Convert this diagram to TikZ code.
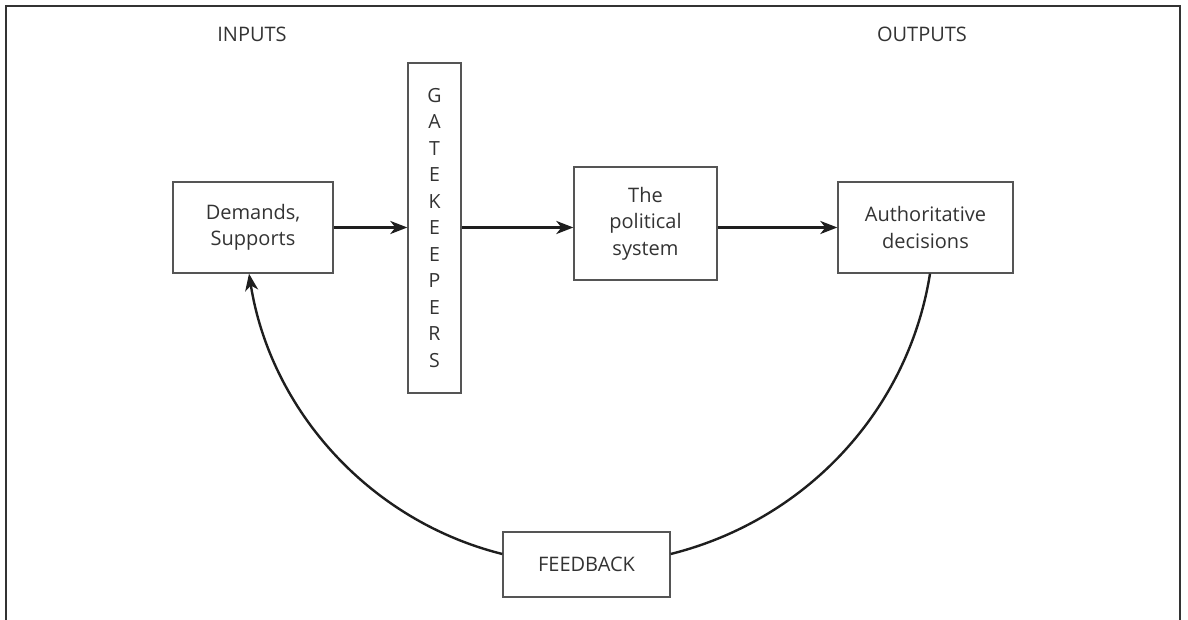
\documentclass[tikz,border=0pt]{standalone}
\usepackage{fontspec}
\setmainfont{Open Sans}
\usetikzlibrary{arrows.meta}
\definecolor{txt}{HTML}{333333}
\definecolor{boxc}{HTML}{555555}
\definecolor{arr}{HTML}{1E1E1E}
\begin{document}
\begin{tikzpicture}[x=1pt,y=1pt,
  box/.style={draw=boxc, line width=1.3pt, text=txt, align=center, inner sep=0pt, font=\fontsize{20}{26.5}\selectfont},
  lbl/.style={text=txt, font=\fontsize{20}{24}\selectfont},
  flow/.style={draw=arr, line width=2.6pt, -{Stealth[length=17pt,width=13pt,inset=5pt]}},
  fbline/.style={draw=arr, line width=2.4pt}]
\useasboundingbox (0,0) rectangle (1188,620);
\draw[draw=txt, line width=2pt] (6,0) -- (6,614) -- (1180,614) -- (1180,0);
\node[lbl] (in) at (252,586) {INPUTS};
\node[lbl] (out) at (922,586) {OUTPUTS};
\node[box, minimum width=160pt, minimum height=91pt] (dem) at (253,392.5) {Demands,\\Supports};
\node[box, minimum width=53pt, minimum height=330pt, font=\fontsize{19.5}{26.5}\selectfont] (gate) at (434.5,392) {G\\A\\T\\E\\K\\E\\E\\P\\E\\R\\S};
\node[box, minimum width=143pt, minimum height=113pt] (pol) at (645.5,396.5) {The\\political\\system};
\node[box, minimum width=175pt, minimum height=91pt] (auth) at (925.5,392.5) {Authoritative\\decisions};
\node[box, minimum width=167pt, minimum height=65pt] (fb) at (586.5,55.5) {FEEDBACK};
\draw[flow] (dem.east) -- (dem.east -| gate.west);
\draw[flow] (dem.east -| gate.east) -- (dem.east -| pol.west);
\draw[flow] (dem.east -| pol.east) -- (auth.west);
\draw[fbline] ([xshift=4.5pt]auth.south) to[out=261, in=14, looseness=0.93] ([yshift=10.5pt]fb.east);
\draw[flow, line width=2.4pt] ([yshift=10.5pt]fb.west) to[out=166, in=-81, looseness=0.93] ([xshift=-4pt]dem.south);
\end{tikzpicture}
\end{document}
